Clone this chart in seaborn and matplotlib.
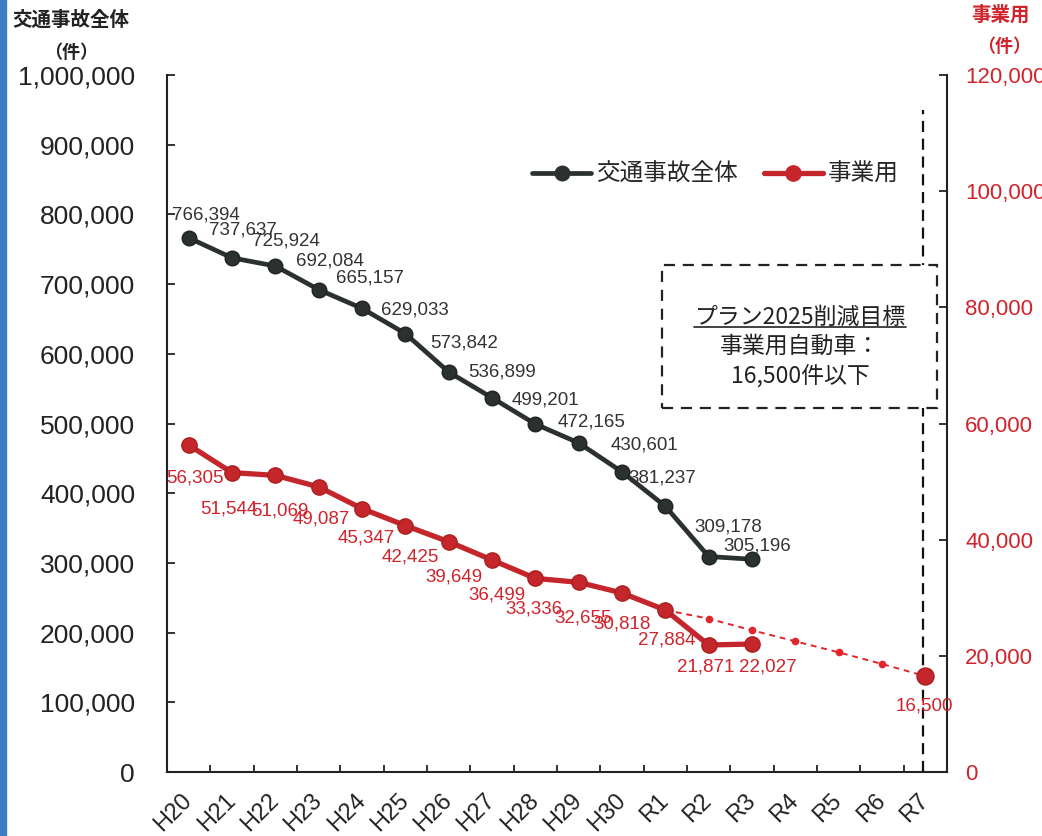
import matplotlib
matplotlib.use("Agg")
import matplotlib.pyplot as plt
from matplotlib.lines import Line2D
from matplotlib.patches import Rectangle
from matplotlib.ticker import FuncFormatter
import numpy as np
import pandas as pd
import seaborn as sns

# ---- data -------------------------------------------------------------
years = ["H20", "H21", "H22", "H23", "H24", "H25", "H26", "H27", "H28",
         "H29", "H30", "R1", "R2", "R3", "R4", "R5", "R6", "R7"]
total_years = years[:14]
total_accidents = [766394, 737637, 725924, 692084, 665157, 629033, 573842,
                   536899, 499201, 472165, 430601, 381237, 309178, 305196]
commercial_years = years[:14]
commercial_accidents = [56305, 51544, 51069, 49087, 45347, 42425, 39649,
                        36499, 33336, 32655, 30818, 27884, 21871, 22027]
target_years = ["R1", "R2", "R3", "R4", "R5", "R6", "R7"]
target_path = [27884, 26400, 24400, 22500, 20600, 18600, 16500]
target_final = 16500

left_ticks = list(range(0, 1000001, 100000))
right_ticks = list(range(0, 120001, 20000))

# label offsets in pixels (dx, dy; dy positive = up)
total_label_offsets = [(17, 23), (11, 28), (11, 25), (11, 29), (8, 30),
                       (10, 24), (15, 29), (10, 26), (10, 24), (13, 21),
                       (23, 27), (-3, 28), (20, 30), (5, 13)]
commercial_label_offsets = [(6, -33), (-3, -36), (5, -36), (3, -32),
                            (4, -29), (5, -31), (5, -35), (5, -35),
                            (-1, -31), (4, -36), (0, -31), (1, -30),
                            (-3, -22), (16, -23)]

# ---- style ------------------------------------------------------------
sns.set_theme(style="white")
plt.rcParams["font.family"] = ["Liberation Sans", "Noto Sans CJK JP"]
plt.rcParams["axes.unicode_minus"] = False

BLACK = "#2b312e"
RED = "#c4262c"
RED_TEXT = "#d0232b"
TEXT = "#222222"
JP = ["Noto Sans CJK JP", "DejaVu Sans"]

W, H = 1042, 836
fig = plt.figure(figsize=(W / 100, H / 100), dpi=100)
fig.patch.set_facecolor("white")
ax = fig.add_axes([167 / W, 1 - 772 / H, 780 / W, 697 / H])
ax2 = ax.twinx()
for a in (ax, ax2):
    a.set_facecolor("none")
    a.grid(False)

pos = {y: i for i, y in enumerate(years)}

df_total = pd.DataFrame({"year": total_years, "count": total_accidents})
df_total["x"] = df_total["year"].map(pos)
df_comm = pd.DataFrame({"year": commercial_years, "count": commercial_accidents})
df_comm["x"] = df_comm["year"].map(pos)
df_target = pd.DataFrame({"year": target_years, "count": target_path})
df_target["x"] = df_target["year"].map(pos)
df_final = pd.DataFrame({"x": [pos["R7"]], "count": [target_final]})

# ---- lines ------------------------------------------------------------
sns.lineplot(data=df_total, x="x", y="count", ax=ax, color=BLACK,
             linewidth=3.4, marker="o", markersize=10.5,
             markeredgecolor="#1e2321", markeredgewidth=1, legend=False)

sns.lineplot(data=df_target, x="x", y="count", ax=ax2, color="#e0252b",
             linewidth=1.4, linestyle=(0, (3, 2.5)), marker="o",
             markersize=5.5, markeredgewidth=0, legend=False)
sns.lineplot(data=df_comm, x="x", y="count", ax=ax2, color=RED,
             linewidth=3.8, marker="o", markersize=11,
             markeredgecolor="#a8201f", markeredgewidth=1, legend=False)
sns.scatterplot(data=df_final, x="x", y="count", ax=ax2, color=RED,
                s=150, edgecolor="#a8201f", linewidth=1, legend=False,
                zorder=5)

# ---- value labels -----------------------------------------------------
for (x, v), (dx, dy) in zip(zip(df_total["x"], df_total["count"]),
                            total_label_offsets):
    ax.annotate(f"{v:,}", (x, v), xytext=(dx * 0.72, dy * 0.72),
                textcoords="offset points", ha="center", va="center",
                fontsize=13.5, color="#333333")
for (x, v), (dx, dy) in zip(zip(df_comm["x"], df_comm["count"]),
                            commercial_label_offsets):
    ax2.annotate(f"{v:,}", (x, v), xytext=(dx * 0.72, dy * 0.72),
                 textcoords="offset points", ha="center", va="center",
                 fontsize=13.5, color=RED_TEXT)
ax2.annotate(f"{target_final:,}", (pos["R7"], target_final),
             xytext=(-1 * 0.72, -30 * 0.72), textcoords="offset points",
             ha="center", va="center", fontsize=13.5, color=RED_TEXT)

# ---- axes -------------------------------------------------------------
ax.set_xlim(-0.5, len(years) - 0.5)
ax.set_ylim(0, 1000000)
ax2.set_ylim(0, 120000)
ax.set_xlabel("")
ax.set_ylabel("")
ax2.set_xlabel("")
ax2.set_ylabel("")

ax.set_xticks(range(len(years)))
ax.set_xticklabels(years, rotation=45, ha="right", va="center",
                   rotation_mode="anchor")
ax.set_xticks(np.arange(0.5, len(years) - 1, 1), minor=True)
ax.tick_params(axis="x", which="major", length=0, pad=18, labelsize=17,
               labelcolor=TEXT)
ax.tick_params(axis="x", which="minor", direction="in", length=5,
               width=1.3, color=TEXT, bottom=True)

ax.set_yticks(left_ticks)
ax.yaxis.set_major_formatter(FuncFormatter(lambda v, p: f"{int(v):,}"))
ax.tick_params(axis="y", which="major", direction="in", length=6,
               width=1.3, color=TEXT, pad=23, labelsize=19,
               labelcolor=TEXT, left=True)

ax2.set_yticks(right_ticks)
ax2.yaxis.set_major_formatter(FuncFormatter(lambda v, p: f"{int(v):,}"))
ax2.tick_params(axis="y", which="major", direction="in", length=6,
                width=1.3, color=TEXT, pad=13, labelsize=16,
                labelcolor=RED_TEXT, right=True)

for s in ("top", "right"):
    ax.spines[s].set_visible(False)
for s in ("top", "left", "bottom"):
    ax2.spines[s].set_visible(False)
for sp in (ax.spines["left"], ax.spines["bottom"], ax2.spines["right"]):
    sp.set_color(TEXT)
    sp.set_linewidth(1.5)

# target year marker line
ax2.axvline(pos["R7"] - 0.05, ymin=0, ymax=0.95, color="#111111",
            linewidth=1.6, linestyle=(0, (5, 3)), zorder=1)

# ---- target box -------------------------------------------------------
ax2.add_patch(Rectangle((0.635, 0.522), 0.352, 0.205,
                        transform=ax2.transAxes, facecolor="white",
                        edgecolor="#222222", linewidth=1.6,
                        linestyle=(0, (5, 3.5)), clip_on=False, zorder=3))
box_lines = ["プラン2025削減目標", "事業用自動車：", "16,500件以下"]
box_y = [0.652, 0.611, 0.568]
box_texts = []
for s, yy in zip(box_lines, box_y):
    box_texts.append(ax2.text(0.8115, yy, s, transform=ax2.transAxes,
                              ha="center", va="center", fontsize=16.5,
                              family=JP, color=TEXT, zorder=4))

# ---- legend -----------------------------------------------------------
handles = [
    Line2D([], [], color=BLACK, linewidth=3.4, marker="o", markersize=10.5),
    Line2D([], [], color=RED, linewidth=3.8, marker="o", markersize=11),
]
ax2.legend(handles, ["交通事故全体", "事業用"], loc="center",
           bbox_to_anchor=(0.703, 0.857), ncol=2, frameon=False,
           prop={"family": JP, "size": 17}, handlelength=2.5,
           columnspacing=1.1, handletextpad=0.2)

# ---- axis titles ------------------------------------------------------
fig.text(71 / W, 1 - 20 / H, "交通事故全体", ha="center", va="center",
         fontsize=14, fontweight="bold", family=JP, color=TEXT)
fig.text(71 / W, 1 - 53 / H, "（件）", ha="center", va="center",
         fontsize=13, fontweight="bold", family=JP, color=TEXT)
fig.text(1001 / W, 1 - 15 / H, "事業用", ha="center", va="center",
         fontsize=14, fontweight="bold", family=JP, color=RED_TEXT)
fig.text(1004 / W, 1 - 47 / H, "（件）", ha="center", va="center",
         fontsize=13, fontweight="bold", family=JP, color=RED_TEXT)

# slide accent stripe on the left edge
fig.patches.append(Rectangle((0, 0), 6 / W, 1, transform=fig.transFigure,
                             color="#3a7dc0", zorder=10))

# underline for the first line of the target box
fig.canvas.draw()
renderer = fig.canvas.get_renderer()
bb = box_texts[0].get_window_extent(renderer)
inv = fig.transFigure.inverted()
(x0, y0), (x1, _) = inv.transform([(bb.x0, bb.y0 + 2), (bb.x1, bb.y0)])
fig.add_artist(Line2D([x0, x1], [y0, y0], transform=fig.transFigure,
                      color=TEXT, linewidth=1.2))

fig.savefig("out.png", dpi=100, facecolor="white")
